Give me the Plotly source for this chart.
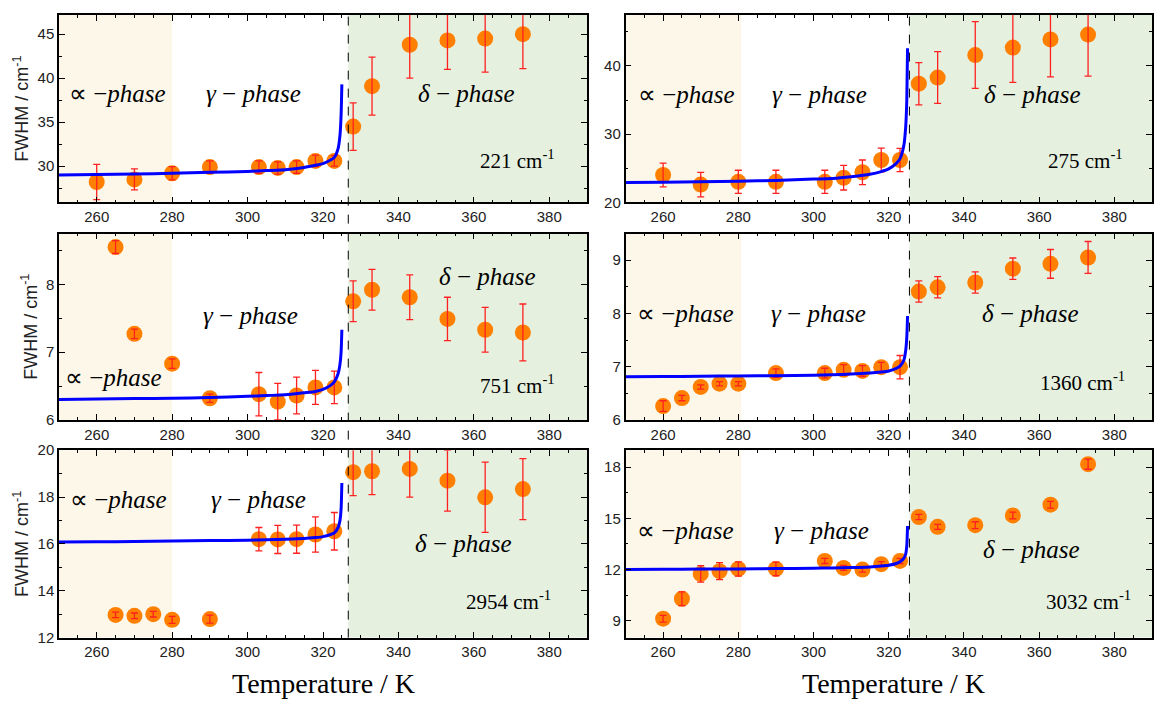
import plotly.graph_objects as go

# ---------------- data ----------------
TL_T = [260, 270, 280, 290, 303, 308, 313, 318, 323, 328, 333, 343, 353, 363, 373]
TL_W = [28.2, 28.5, 29.2, 29.9, 29.9, 29.8, 29.9, 30.6, 30.6, 34.5, 39.1, 43.8, 44.3, 44.5, 45.0]
TL_E = [2.0, 1.2, 0.75, 0.7, 0.7, 0.7, 0.7, 0.65, 0.6, 2.7, 3.3, 3.8, 3.3, 3.8, 3.9]

TR_T = [260, 270, 280, 290, 303, 308, 313, 318, 323, 328, 333, 343, 353, 363, 373]
TR_W = [24.0, 22.6, 23.0, 23.0, 23.0, 23.6, 24.4, 26.2, 26.2, 37.4, 38.3, 41.6, 42.7, 43.9, 44.6]
TR_E = [1.75, 1.8, 1.7, 1.7, 1.7, 1.8, 1.8, 1.75, 1.7, 3.1, 3.8, 4.9, 5.1, 5.5, 6.1]

ML_T = [265, 270, 280, 290, 303, 308, 313, 318, 323, 328, 333, 343, 353, 363, 373]
ML_W = [8.55, 7.27, 6.83, 6.32, 6.38, 6.27, 6.36, 6.48, 6.48, 7.75, 7.92, 7.81, 7.49, 7.33, 7.29]
ML_E = [0.095, 0.07, 0.07, 0.06, 0.32, 0.27, 0.27, 0.25, 0.24, 0.3, 0.3, 0.33, 0.32, 0.33, 0.42]

MR_T = [260, 265, 270, 275, 280, 290, 303, 308, 313, 318, 323, 328, 333, 343, 353, 363, 373]
MR_W = [6.26, 6.41, 6.62, 6.68, 6.68, 6.88, 6.88, 6.94, 6.92, 6.99, 6.99, 8.41, 8.49, 8.58, 8.84, 8.93, 9.05]
MR_E = [0.1, 0.05, 0.04, 0.04, 0.04, 0.08, 0.09, 0.1, 0.1, 0.09, 0.22, 0.2, 0.2, 0.2, 0.2, 0.27, 0.3]

BL_T = [265, 270, 275, 280, 290, 303, 308, 313, 318, 323, 328, 333, 343, 353, 363, 373]
BL_W = [12.97, 12.93, 13.0, 12.76, 12.79, 16.2, 16.19, 16.2, 16.4, 16.54, 19.06, 19.1, 19.2, 18.7, 17.99, 18.34]
BL_E = [0.12, 0.12, 0.12, 0.15, 0.17, 0.5, 0.6, 0.6, 0.75, 0.8, 1.0, 1.0, 1.2, 1.3, 1.5, 1.3]

BR_T = [260, 265, 270, 275, 280, 290, 303, 308, 313, 318, 323, 328, 333, 343, 353, 363, 373]
BR_W = [9.11, 10.28, 11.74, 11.9, 12.03, 12.03, 12.5, 12.09, 11.99, 12.31, 12.5, 15.08, 14.5, 14.6, 15.17, 15.8, 18.18]
BR_E = [0.2, 0.4, 0.48, 0.5, 0.42, 0.4, 0.15, 0.15, 0.15, 0.15, 0.15, 0.15, 0.15, 0.2, 0.2, 0.2, 0.3]

# fitted curves
FIT_T = [250, 260, 270, 280, 290, 300, 305, 310, 315, 318, 320, 322, 323, 324, 324.5, 324.8, 325]
FIT_TL = [29.0, 29.05, 29.1, 29.2, 29.3, 29.4, 29.5, 29.6, 29.85, 30.1, 30.3, 30.7, 31.0, 32.0, 33.5, 35.8, 39.3]
FIT_TR = [22.9, 22.95, 23.0, 23.1, 23.2, 23.4, 23.5, 23.75, 24.1, 24.5, 24.9, 25.7, 26.4, 28.3, 31.0, 35.0, 42.6]
FIT_ML = [6.30, 6.31, 6.315, 6.32, 6.33, 6.35, 6.36, 6.37, 6.40, 6.42, 6.45, 6.51, 6.56, 6.68, 6.82, 7.0, 7.33]
FIT_MR = [6.81, 6.815, 6.82, 6.825, 6.83, 6.84, 6.85, 6.86, 6.88, 6.90, 6.92, 6.97, 7.01, 7.12, 7.30, 7.55, 7.95]
FIT_BL = [16.08, 16.09, 16.10, 16.12, 16.14, 16.16, 16.18, 16.20, 16.23, 16.27, 16.31, 16.40, 16.47, 16.7, 17.0, 17.5, 18.6]
FIT_BR = [12.0, 12.01, 12.02, 12.03, 12.05, 12.07, 12.09, 12.11, 12.15, 12.2, 12.25, 12.35, 12.45, 12.65, 12.9, 13.4, 14.55]

LABELS = ["221 cm<sup>-1</sup>", "275 cm<sup>-1</sup>", "751 cm<sup>-1</sup>",
          "1360 cm<sup>-1</sup>", "2954 cm<sup>-1</sup>", "3032 cm<sup>-1</sup>"]

# ---------------- layout config ----------------
XDOM = {0: [59 / 1157, 587 / 1157], 1: [625.5 / 1157, 1152 / 1157]}
YDOM = {0: [1 - 198 / 711, 1 - 6 / 711], 1: [1 - 421 / 711, 1 - 230 / 711], 2: [1 - 644 / 711, 1 - 452 / 711]}
DASH_X = {0: 326.7, 1: 325.5}
BEIGE_END = {0: 280.0, 1: 280.8}

panels = [
    dict(r=0, c=0, T=TL_T, W=TL_W, E=TL_E, F=FIT_TL, yr=[25.9, 47.2], dt=5, mdt=2.5,
         lab=(371.7, 30.8), a=(265.4, 38.3), g=(301.7, 38.3), d=(358.0, 38.3)),
    dict(r=0, c=1, T=TR_T, W=TR_W, E=TR_E, F=FIT_TR, yr=[20, 47.5], dt=10, mdt=5,
         lab=(372.4, 26.3), a=(266.2, 35.8), g=(301.6, 35.8), d=(358.1, 35.8)),
    dict(r=1, c=0, T=ML_T, W=ML_W, E=ML_E, F=FIT_ML, yr=[6, 8.75], dt=1, mdt=0.5,
         lab=(371.7, 6.53), a=(264.4, 6.63), g=(300.7, 7.54), d=(363.7, 8.12)),
    dict(r=1, c=1, T=MR_T, W=MR_W, E=MR_E, F=FIT_MR, yr=[6, 9.5], dt=1, mdt=0.5,
         lab=(371.6, 6.72), a=(265.9, 7.99), g=(301.3, 7.99), d=(357.6, 7.99)),
    dict(r=2, c=0, T=BL_T, W=BL_W, E=BL_E, F=FIT_BL, yr=[12, 20], dt=2, mdt=1,
         lab=(369.2, 13.6), a=(265.7, 17.9), g=(303.0, 17.9), d=(357.2, 16.0)),
    dict(r=2, c=1, T=BR_T, W=BR_W, E=BR_E, F=FIT_BR, yr=[8, 19], dt=3, mdt=1.5,
         lab=(373.0, 10.2), a=(266.0, 14.3), g=(302.0, 14.3), d=(358.0, 13.2)),
]

fig = go.Figure()
shapes = []
annotations = []
layout = dict(
    width=1157, height=711,
    margin=dict(l=0, r=0, t=0, b=0),
    paper_bgcolor="white", plot_bgcolor="white",
    showlegend=False,
    font=dict(family="Liberation Sans", size=15, color="#222"),
)

PHASE_FONT = dict(family="Liberation Serif", size=25, color="black")

for i, p in enumerate(panels):
    n = i + 1
    xa = "x" if n == 1 else f"x{n}"
    ya = "y" if n == 1 else f"y{n}"
    xkey = "xaxis" if n == 1 else f"xaxis{n}"
    ykey = "yaxis" if n == 1 else f"yaxis{n}"
    c = p["c"]
    layout[xkey] = dict(
        domain=XDOM[c], anchor=ya, range=[250, 390], tickmode="linear", tick0=260, dtick=20,
        ticks="inside", ticklen=6, tickwidth=1.2, tickcolor="black",
        minor=dict(ticks="inside", ticklen=3, dtick=5, tick0=250, tickcolor="black", tickwidth=1),
        showline=True, linecolor="black", linewidth=1.5, mirror="ticks",
        showgrid=False, zeroline=False, tickfont=dict(size=15, family="Liberation Sans", color="#222"),
    )
    yax = dict(
        domain=YDOM[p["r"]], anchor=xa, range=p["yr"], tickmode="linear", tick0=0, dtick=p["dt"],
        ticks="inside", ticklen=6, tickwidth=1.2, tickcolor="black",
        minor=dict(ticks="inside", ticklen=3, dtick=p["mdt"], tick0=0, tickcolor="black", tickwidth=1),
        showline=True, linecolor="black", linewidth=1.5, mirror="ticks",
        showgrid=False, zeroline=False, tickfont=dict(size=15, family="Liberation Sans", color="#222"),
    )
    if c == 0:
        yax["title"] = dict(text="FWHM / cm<sup>-1</sup>", font=dict(size=18, family="Liberation Sans", color="#222"), standoff=4)
    layout[ykey] = yax

    shapes.append(dict(type="rect", xref=xa, yref=f"{ya} domain", x0=250, x1=BEIGE_END[c], y0=0, y1=1,
                       fillcolor="#FDF7EA", line=dict(width=0), layer="below"))
    shapes.append(dict(type="rect", xref=xa, yref=f"{ya} domain", x0=DASH_X[c], x1=390, y0=0, y1=1,
                       fillcolor="#E5F0DF", line=dict(width=0), layer="below"))

    fig.add_trace(go.Scatter(x=p["T"], y=p["W"], mode="markers", xaxis=xa, yaxis=ya,
                             marker=dict(size=16, color="#FF8000", line=dict(width=0))))
    fig.add_trace(go.Scatter(x=p["T"], y=p["W"], mode="markers", xaxis=xa, yaxis=ya,
                             marker=dict(size=1, color="rgba(0,0,0,0)"),
                             error_y=dict(type="data", array=p["E"], visible=True, color="#FF2020",
                                          thickness=1.3, width=3.5)))
    fig.add_trace(go.Scatter(x=FIT_T, y=p["F"], mode="lines", xaxis=xa, yaxis=ya,
                             line=dict(color="#0000FF", width=3, shape="spline", smoothing=0.6)))

    annotations.append(dict(xref=xa, yref=ya, x=p["a"][0], y=p["a"][1], text="∝ −<i>phase</i>",
                            showarrow=False, font=PHASE_FONT))
    annotations.append(dict(xref=xa, yref=ya, x=p["g"][0], y=p["g"][1], text="<i>γ</i> − <i>phase</i>",
                            showarrow=False, font=PHASE_FONT))
    annotations.append(dict(xref=xa, yref=ya, x=p["d"][0], y=p["d"][1], text="<i>δ</i> − <i>phase</i>",
                            showarrow=False, font=PHASE_FONT))
    annotations.append(dict(xref=xa, yref=ya, x=p["lab"][0], y=p["lab"][1], text=LABELS[i],
                            showarrow=False, font=dict(family="Liberation Serif", size=21, color="black")))

for c, xa in [(0, "x"), (1, "x2")]:
    shapes.append(dict(type="line", xref=xa, yref="paper", x0=DASH_X[c], x1=DASH_X[c],
                       y0=YDOM[2][0], y1=YDOM[0][1], line=dict(color="black", width=1, dash="dash")))

for xc in (323 / 1157, 893 / 1157):
    annotations.append(dict(xref="paper", yref="paper", x=xc, y=1 - 691 / 711, xanchor="center",
                            yanchor="middle", text="Temperature / K", showarrow=False,
                            font=dict(family="Liberation Serif", size=28, color="black")))

layout["shapes"] = shapes
layout["annotations"] = annotations
fig.update_layout(**layout)
fig.write_html("out.html")
